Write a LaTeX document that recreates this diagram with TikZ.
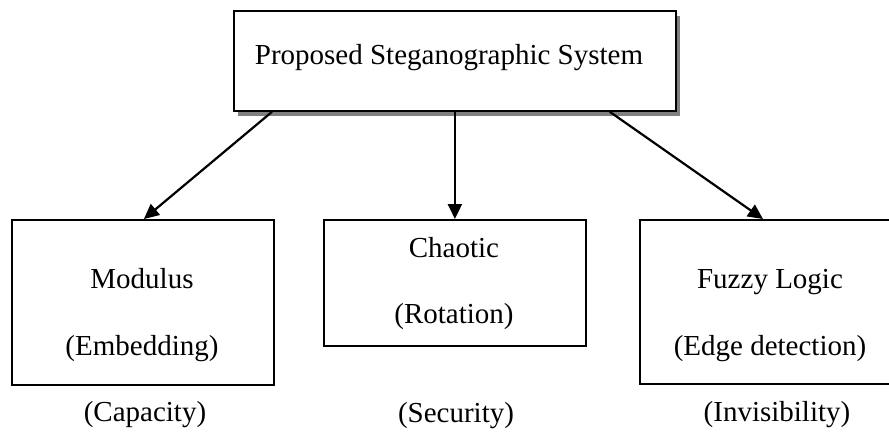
\documentclass[tikz,border=0pt]{standalone}
\usepackage{fontspec}
\setmainfont{Liberation Serif}
\usetikzlibrary{arrows.meta,positioning}
\begin{document}
\begin{tikzpicture}[x=1pt,y=-1pt,
  box/.style={draw=black,line width=1.8pt,fill=white,inner sep=0pt,anchor=north west},
  shadowbox/.style={fill=black!50,draw=none,inner sep=0pt,anchor=north west},
  lbl/.style={font=\fontsize{29}{34}\selectfont,inner sep=0pt,anchor=base},
  arr/.style={line width=2.2pt,-{Triangle[length=15pt,width=14pt]}}]
  \useasboundingbox (0,0) rectangle (889,432);

  % top system box with drop shadow
  \node[shadowbox,minimum width=442pt,minimum height=100pt] (topshadow) at (238,16) {};
  \node[box,minimum width=442pt,minimum height=100pt] (top) at (233,10) {};
  \node[lbl] (toptext) at (449,64) {Proposed Steganographic System};

  % three component boxes (the right one runs past the page edge)
  \node[box,minimum width=262pt,minimum height=165pt] (mod) at (11,219) {};
  \node[box,minimum width=262pt,minimum height=126pt] (cha) at (323,219) {};
  \node[box,minimum width=290pt,minimum height=164pt] (fuz) at (639,219) {};

  \node[lbl] (modA) at (142,288) {Modulus};
  \node[lbl] (modB) at (142,355) {(Embedding)};
  \node[lbl] (chaA) at (454,257) {Chaotic};
  \node[lbl] (chaB) at (454,323) {(Rotation)};
  \node[lbl] (fuzA) at (770,288) {Fuzzy Logic};
  \node[lbl] (fuzB) at (770,355) {(Edge detection)};

  % property captions under the boxes
  \node[lbl] (capA) at (145,421) {(Capacity)};
  \node[lbl] (capB) at (456,422) {(Security)};
  \node[lbl] (capC) at (777,421) {(Invisibility)};

  % connectors
  \draw[arr] ([xshift=39pt]top.south west) -- ([xshift=1pt]mod.north);
  \draw[arr] (top.south) -- (cha.north);
  \draw[arr] ([xshift=-67pt]top.south east) -- ([xshift=124pt]fuz.north west);
\end{tikzpicture}
\end{document}
